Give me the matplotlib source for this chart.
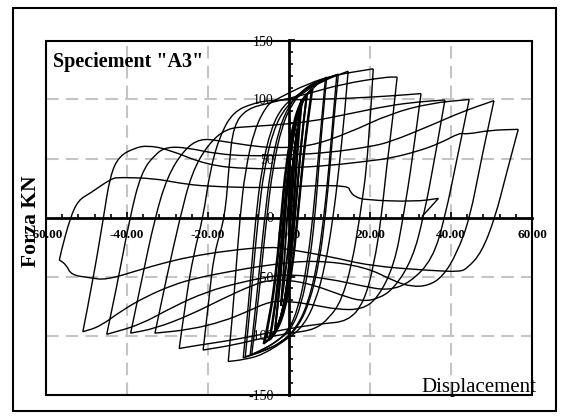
import matplotlib
matplotlib.use("Agg")
import matplotlib.pyplot as plt
from matplotlib.patches import Rectangle, PathPatch
from matplotlib.path import Path
from matplotlib.ticker import MultipleLocator, FuncFormatter

# cyclic test, specimen A3: displacement (mm) vs force (kN)
# each loop: positive peak -> negative peak -> next positive peak
loop_a = [(0, 0), (0.6, 35), (2.0, 75), (1.2, 40), (0.5, 0), (-0.6, -40), (-2.0, -75),
          (-1.2, -40), (-0.5, 0), (0.6, 38), (2.1, 76)]
loop_b = [(2.1, 76), (2.8, 92), (3.2, 100), (2.4, 70), (1.6, 30), (0.9, -10), (-0.2, -50),
          (-1.5, -80), (-3.5, -98), (-2.6, -70), (-1.6, -30), (-0.8, 10), (0.3, 50),
          (1.5, 80), (3.1, 100)]
loop_c = [(3.1, 100), (2.3, 72), (1.5, 32), (0.8, -8), (-0.3, -52), (-1.6, -82), (-3.6, -99),
          (-2.7, -72), (-1.7, -32), (-0.9, 8), (0.2, 48), (1.4, 78), (3.0, 98)]
loop_d = [(3.0, 98), (4.4, 104), (3.5, 80), (2.4, 40), (1.4, 0), (0.3, -40), (-1.2, -75),
          (-3.0, -95), (-4.9, -104), (-3.6, -80), (-2.4, -40), (-1.4, 0), (-0.3, 40),
          (1.2, 75), (2.8, 95), (4.4, 104)]
loop_e = [(4.4, 104), (3.6, 82), (2.5, 42), (1.5, 2), (0.4, -38), (-1.1, -73), (-2.9, -94),
          (-4.7, -103), (-3.4, -78), (-2.2, -38), (-1.2, 2), (-0.1, 42), (1.4, 76),
          (3.0, 96), (4.6, 105)]
loop_f = [(4.6, 105), (5.8, 109), (4.8, 85), (3.4, 45), (2.2, 0), (0.8, -45), (-1.0, -80),
          (-3.5, -100), (-6.3, -107), (-4.8, -85), (-3.2, -45), (-2.0, 0), (-0.8, 45),
          (1.0, 80), (3.0, 100), (5.6, 108)]
loop_g = [(5.6, 108), (4.7, 86), (3.3, 46), (2.1, 1), (0.7, -44), (-1.1, -79), (-3.4, -99),
          (-6.0, -106), (-4.6, -84), (-3.0, -44), (-1.8, 1), (-0.6, 46), (1.2, 81),
          (3.3, 101), (6.0, 109.5)]
loop_9 = [(6.0, 109.5), (7.5, 115), (9.3, 119), (8.5, 90), (7.4, 45), (6.4, 0), (5.0, -40),
          (3.0, -75), (0.5, -95), (-3.0, -105), (-6.5, -112), (-9.6, -117), (-8.5, -85),
          (-7.2, -40), (-6.0, 0), (-4.6, 40), (-2.5, 75), (0, 95), (3.0, 107), (6.5, 115),
          (9.0, 118)]
loop_9b = [(9.0, 118), (8.2, 88), (7.0, 42), (5.9, 0), (4.4, -42), (2.3, -77), (-0.3, -97),
           (-3.8, -107), (-7.2, -113), (-9.2, -116), (-8.0, -84), (-6.7, -40), (-5.5, 0),
           (-4.0, 42), (-1.8, 77), (0.8, 97), (4.0, 109), (7.5, 116), (11.8, 121)]
loop_12 = [(11.8, 121), (11.0, 90), (9.8, 40), (8.6, 0), (7.0, -40), (4.5, -75), (1.5, -95),
           (-2.0, -106), (-6.0, -113), (-11.3, -119), (-10.3, -85), (-9.2, -40), (-8.2, 0),
           (-6.8, 40), (-4.5, 75), (-1.5, 95), (3.0, 106), (8.0, 116), (12.2, 121.6)]
loop_12b = [(12.2, 121.6), (11.3, 92), (10.2, 45), (9.0, 2), (7.5, -38), (5.0, -73),
            (2.0, -94), (-1.5, -105), (-5.5, -112), (-10.8, -118), (-9.8, -84), (-8.7, -40),
            (-7.6, 0), (-6.2, 40), (-3.9, 74), (-0.8, 94), (3.5, 106), (8.5, 116),
            (14.6, 124)]
loop_15 = [(14.6, 124), (13.8, 90), (12.3, 40), (10.9, 0), (9.0, -40), (6.5, -72), (3.5, -92),
           (0, -102), (-6.5, -116.5), (-11.4, -120.6), (-15.0, -122), (-14.0, -85),
           (-13.0, -40), (-12.1, 0), (-10.8, 40), (-8.5, 75), (-5.5, 95), (-3.5, 99.6),
           (4.8, 113.7), (11.4, 120.8), (20.8, 126)]
loop_21 = [(20.8, 126), (19.6, 53), (17.5, 0), (15.5, -40), (13.0, -70), (10.0, -85),
           (6.4, -95), (0.3, -98), (-6.3, -102), (-13.6, -108), (-21.2, -112.3),
           (-19.8, -70), (-18.5, -30), (-15.8, 0), (-14.8, 45), (-13.7, 78), (-10.5, 92),
           (-5.0, 97), (0, 101), (4.8, 105), (13.0, 113), (23.7, 119), (26.7, 119)]
loop_27 = [(26.7, 119), (25.5, 80), (24.0, 40), (22.8, 0), (21.0, -40), (18.5, -72),
           (14.6, -88), (8.0, -90), (0, -94), (-8.0, -100), (-16.0, -105), (-22.0, -108),
           (-27.1, -111), (-25.5, -70), (-23.5, -30), (-21.2, 0), (-19.5, 40), (-17.0, 70),
           (-13.7, 89.7), (-8.8, 96.8), (-4.7, 99.5), (5.0, 100), (15.0, 101), (25.0, 103),
           (32.6, 105)]
loop_33 = [(32.6, 105), (30.5, 50), (28.2, 0), (26.0, -40), (22.0, -68), (18.0, -78),
           (12.0, -78), (6.0, -74), (0, -71), (-4.7, -71), (-10.5, -80), (-16.2, -88),
           (-24.4, -95), (-33.1, -98), (-30.5, -55), (-26.9, 0), (-24.0, 38), (-20.0, 62),
           (-15.4, 75.6), (-10.0, 77), (-5.0, 78), (5.0, 81), (15.0, 88), (25.0, 95),
           (32.0, 98), (38.5, 99.6)]
loop_39 = [(38.5, 99.6), (36.0, 50), (33.2, 0), (30.5, -35), (26.0, -60), (22.0, -69),
           (18.0, -71), (13.0, -66), (6.0, -57), (0, -53), (-4.7, -53), (-8.8, -57),
           (-16.2, -68.5), (-24.4, -82.6), (-33.0, -94), (-39.1, -98), (-36.5, -55),
           (-33.1, 0), (-30.0, 35), (-26.0, 57), (-22.0, 67), (-17.0, 65), (-10.0, 61),
           (-4.0, 59), (5.0, 60), (15.0, 72), (25.0, 88), (35.0, 97), (44.5, 100)]
loop_45 = [(44.5, 100), (41.5, 50), (38.5, 0), (35.5, -35), (30.0, -55), (24.5, -62),
           (18.0, -58), (10.0, -52), (0, -48), (-4.7, -50), (-12.0, -55), (-20.3, -62.8),
           (-28.6, -75.6), (-36.8, -91), (-45.0, -99), (-42.3, -55), (-39.3, 0),
           (-36.5, 38), (-33.0, 54), (-30.0, 60), (-25.0, 59), (-18.0, 54), (-10.0, 52),
           (0, 53), (10.0, 55), (20.0, 60), (25.0, 64), (35.0, 78), (43.0, 90), (50.6, 99)]
loop_51 = [(50.6, 99), (47.5, 50), (44.7, 0), (41.5, -30), (38.0, -50), (34.4, -57.8),
           (30.3, -58.6), (26.2, -54.4), (18.8, -41.7), (6.4, -36), (-5.0, -40),
           (-15.0, -46), (-23.0, -51.4), (-28.7, -57.2), (-35.3, -67), (-41.1, -78.4),
           (-46.8, -92.6), (-50.9, -96.8), (-48.5, -55), (-45.8, 0), (-44.2, 35),
           (-42.0, 52), (-38.0, 59), (-35.0, 61), (-30.0, 58), (-20.3, 44.5), (-10.0, 41),
           (0, 42), (10.0, 44), (20.0, 48), (24.9, 50.2), (31.5, 55.8), (37.3, 62.9),
           (42.2, 71.9), (43.8, 70.4), (49.6, 74), (56.6, 74.7)]
loop_57 = [(56.6, 74.7), (53.5, 35), (50.9, 0), (47.5, -30), (44.0, -43), (42.2, -46),
           (35.0, -45), (20.0, -41), (10.0, -33), (0, -27), (-4.7, -24.7), (-15.0, -28),
           (-24.4, -33.2), (-31.2, -38.8), (-37.0, -44.5), (-45.2, -53), (-49.3, -51),
           (-53.8, -48.7), (-55.0, -40), (-56.7, -36), (-56.3, -29), (-54.0, 0),
           (-52.0, 14.8), (-49.1, 20.5), (-43.8, 33.2), (-41.7, 34), (-33.5, 33.2),
           (-26.9, 29), (-20.3, 26.3), (-4.7, 25), (5.0, 27), (14.6, 27), (15.1, 21.9),
           (16.3, 17.6), (18.8, 14.8), (31.1, 13.4), (36.9, 16.2), (32.8, 0.7)]

core_loops = [loop_a, loop_b, loop_c, loop_d, loop_e, loop_f, loop_g]
big_loops = [loop_9, loop_9b, loop_12, loop_12b, loop_15, loop_21, loop_27, loop_33,
             loop_39, loop_45, loop_51, loop_57]

x_ticks = [-60, -40, -20, 0, 20, 40, 60]
y_ticks = [-150, -100, -50, 0, 50, 100, 150]
grid_x = [-40, -20, 20, 40]
grid_y = [-100, -50, 50, 100]


def curve_path(pts):
    # rounded polyline: keep reversal points sharp, round the rest
    verts = [pts[0]]
    codes = [Path.MOVETO]
    for i in range(1, len(pts) - 1):
        px, py = pts[i - 1]
        cx, cy = pts[i]
        nx, ny = pts[i + 1]
        if (cx - px) * (nx - cx) < 0:
            verts.append((cx, cy))
            codes.append(Path.LINETO)
        else:
            verts += [(cx, cy), ((cx + nx) / 2, (cy + ny) / 2)]
            codes += [Path.CURVE3, Path.CURVE3]
    verts.append(pts[-1])
    codes.append(Path.LINETO)
    return Path(verts, codes)


plt.rcParams['font.family'] = 'Liberation Serif'
plt.rcParams['axes.unicode_minus'] = False

fig = plt.figure(figsize=(5.64, 4.16), dpi=100)
fig.patches.append(Rectangle((13 / 564, 5 / 416), 543 / 564, 403 / 416,
                             transform=fig.transFigure, fill=False, lw=1.5, ec='black'))

ax = fig.add_axes([46 / 564, 21.5 / 416, 486 / 564, 354 / 416])
ax.set_xlim(-60, 60)
ax.set_ylim(-150, 150)

# dashed grid, axes crossing at the origin
for v in grid_x:
    ax.axvline(v, color='#c4c4c4', lw=1.5, ls=(0, (6, 3.5)), zorder=0)
for v in grid_y:
    ax.axhline(v, color='#c4c4c4', lw=1.5, ls=(0, (6, 3.5)), zorder=0)

ax.spines['top'].set_visible(False)
ax.spines['right'].set_visible(False)
ax.spines['left'].set_position('zero')
ax.spines['bottom'].set_position('zero')
ax.spines['left'].set_linewidth(2)
ax.spines['bottom'].set_linewidth(2)
ax.add_patch(Rectangle((0, 0), 1, 1, transform=ax.transAxes, fill=False,
                       lw=1.5, ec='black', clip_on=False, zorder=5))

ax.set_xticks(x_ticks)
ax.set_yticks(y_ticks)
ax.xaxis.set_minor_locator(MultipleLocator(4))
ax.yaxis.set_minor_locator(MultipleLocator(10))
ax.xaxis.set_major_formatter(FuncFormatter(lambda v, p: '%.2f' % v))
ax.yaxis.set_major_formatter(FuncFormatter(lambda v, p: '%d' % v))
ax.tick_params(which='both', direction='in', width=1.2)
ax.tick_params(which='major', length=4)
ax.tick_params(which='minor', length=3)
ax.tick_params(axis='x', pad=8, labelsize=9.5)
ax.tick_params(axis='y', pad=11, labelsize=10)
for lab in ax.get_xticklabels():
    lab.set_fontweight('bold')

for lp in core_loops:
    ax.add_patch(PathPatch(curve_path(lp), fill=False, ec='black', lw=1.4, zorder=3))
for lp in big_loops:
    ax.add_patch(PathPatch(curve_path(lp), fill=False, ec='black', lw=1.0, zorder=3))

ax.text(0.014, 0.926, 'Speciement "A3"', transform=ax.transAxes,
        fontsize=14.5, fontweight='bold', va='baseline')
fig.text(31.5 / 564, 1 - 221 / 416, 'Forza KN', rotation=90, fontsize=15.5,
         fontweight='bold', ha='center', va='center')
fig.text(421 / 564, 1 - 392 / 416, 'Displacement', fontsize=15, va='baseline')

fig.savefig('out.png', dpi=100)
